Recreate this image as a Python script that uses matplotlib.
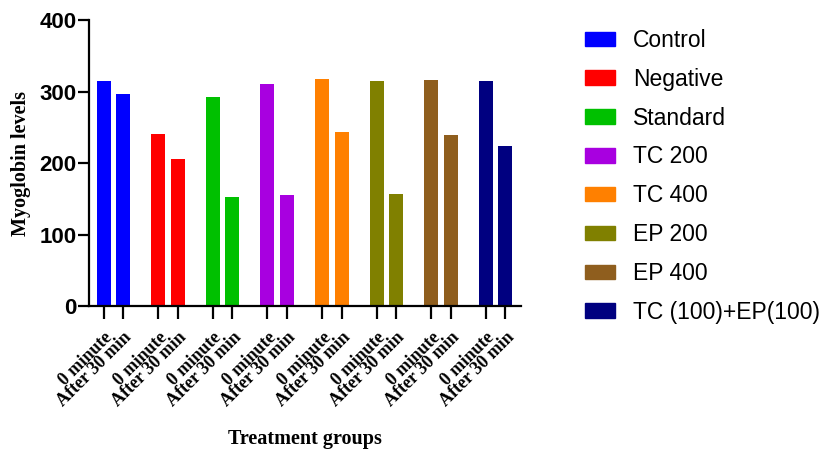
import numpy as np
import matplotlib
matplotlib.use("Agg")
import matplotlib.pyplot as plt
from matplotlib.patches import Patch

# -------------------------------
# Data
# -------------------------------
groups = ["Control", "Negative", "Standard", "TC 200", "TC 400",
          "EP 200", "EP 400", "TC (100)+EP(100)"]
colors = ["#0000FF", "#FF0000", "#00C000", "#A800E0", "#FF8000",
          "#808000", "#8F5E1E", "#000080"]
time_labels = ["0 minute", "After 30 min"]
zero_min = [314, 241, 293, 311, 318, 314, 316, 314]
after_30 = [296, 205, 153, 155, 243, 157, 239, 224]

# -------------------------------
# Layout
# -------------------------------
group_step = 2.8
bar_w = 0.72
x0 = np.arange(len(groups)) * group_step
x1 = x0 + 1

fig = plt.figure(figsize=(8.3, 4.5), dpi=100)
ax = fig.add_axes([89 / 830, 1 - 306 / 450, (521 - 89) / 830, (306 - 20) / 450])

for i, c in enumerate(colors):
    ax.bar(x0[i], zero_min[i], width=bar_w, color=c)
    ax.bar(x1[i], after_30[i], width=bar_w, color=c)

ax.set_xlim(-0.75, x1[-1] + 0.8)
ax.set_ylim(0, 400)
ax.set_yticks([0, 100, 200, 300, 400])

xt = np.ravel(np.column_stack([x0, x1]))
ax.set_xticks(xt)
ax.set_xticklabels(time_labels * len(groups), rotation=45, ha="right",
                   rotation_mode="anchor", family="Liberation Serif",
                   fontweight="bold", fontsize=13)

for lab in ax.get_yticklabels():
    lab.set_family("Liberation Sans")
    lab.set_fontweight("bold")
    lab.set_fontsize(16)

for s in ["top", "right"]:
    ax.spines[s].set_visible(False)
for s in ["left", "bottom"]:
    ax.spines[s].set_linewidth(1.6)
ax.tick_params(axis="y", width=1.6, length=8, pad=1)
ax.tick_params(axis="x", width=1.6, length=9.5, pad=7)

ax.set_ylabel("Myoglobin levels", family="Liberation Serif",
              fontweight="bold", fontsize=14.5, labelpad=6)
ax.set_xlabel("Treatment groups", family="Liberation Serif",
              fontweight="bold", fontsize=14.5, labelpad=14)

handles = [Patch(facecolor=c, edgecolor=c) for c in colors]
fig.legend(handles, groups, loc="upper left", bbox_to_anchor=(585 / 830, 1 - 29 / 450),
           frameon=False, prop={"family": "Liberation Sans", "size": 16.5},
           borderpad=0, borderaxespad=0,
           handlelength=1.3, handleheight=0.6, handletextpad=0.78, labelspacing=0.69)

fig.savefig("out.png", dpi=100)
